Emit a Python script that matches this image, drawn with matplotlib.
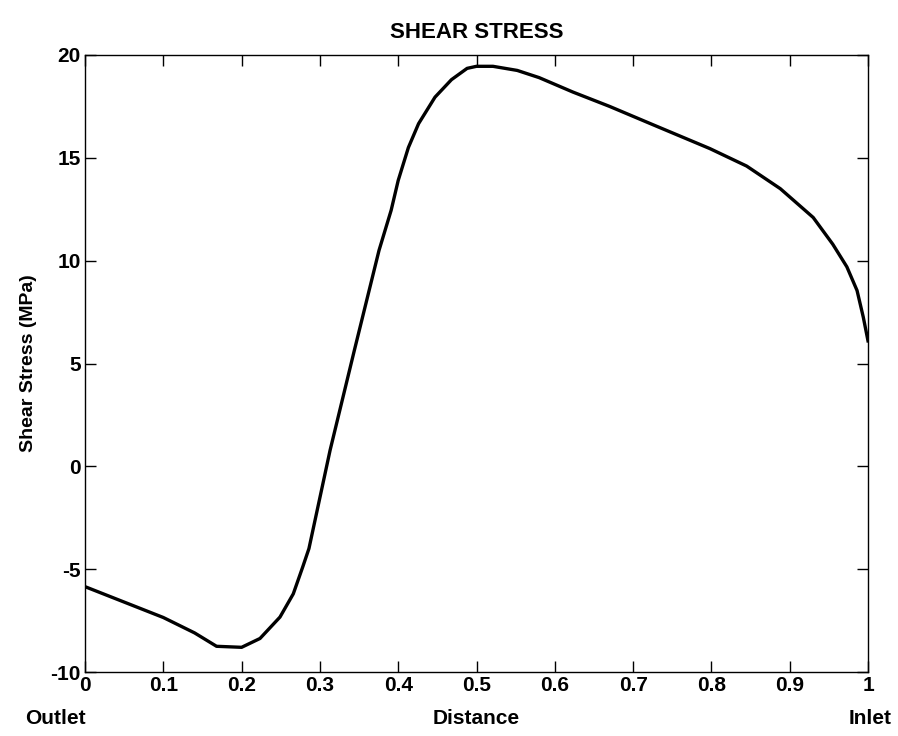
import matplotlib
matplotlib.use("Agg")
import matplotlib.pyplot as plt

# shear stress along the distance
distance = [0.0, 0.05, 0.10, 0.14, 0.168, 0.20, 0.2235, 0.249, 0.266, 0.278,
            0.286, 0.313, 0.344, 0.3755, 0.391, 0.400, 0.413, 0.426, 0.447,
            0.468, 0.488, 0.50, 0.521, 0.552, 0.58, 0.623, 0.67, 0.726,
            0.798, 0.845, 0.888, 0.93, 0.955, 0.973, 0.986, 0.994, 1.0]
stress = [-5.85, -6.6, -7.35, -8.1, -8.75, -8.8, -8.37, -7.33, -6.2, -4.9,
          -4.0, 0.78, 5.64, 10.5, 12.45, 13.9, 15.5, 16.66, 17.95,
          18.8, 19.35, 19.45, 19.45, 19.25, 18.9, 18.2, 17.5, 16.6,
          15.45, 14.6, 13.5, 12.1, 10.8, 9.7, 8.55, 7.25, 6.1]

xticks = [0, 0.1, 0.2, 0.3, 0.4, 0.5, 0.6, 0.7, 0.8, 0.9, 1]
xtick_labels = ['0', '0.1', '0.2', '0.3', '0.4', '0.5', '0.6', '0.7', '0.8', '0.9', '1']
yticks = [-10, -5, 0, 5, 10, 15, 20]
ytick_labels = ['-10', '-5', '0', '5', '10', '15', '20']

plt.rcParams['font.family'] = ['Liberation Sans', 'DejaVu Sans']
plt.rcParams['font.weight'] = 'bold'
plt.rcParams['axes.unicode_minus'] = False

fig = plt.figure(figsize=(8.98, 7.36), dpi=100)
ax = fig.add_axes([85 / 898, 1 - 672 / 736, 783 / 898, 617 / 736])

ax.plot(distance, stress, color='black', linewidth=2.4,
        solid_joinstyle='round')

ax.set_xlim(0, 1)
ax.set_ylim(-10, 20)
ax.set_xticks(xticks)
ax.set_xticklabels(xtick_labels)
ax.set_yticks(yticks)
ax.set_yticklabels(ytick_labels)
ax.tick_params(direction='in', length=8, width=1, top=True, right=True,
               labelsize=15, pad=3)
for lab in ax.get_xticklabels() + ax.get_yticklabels():
    lab.set_fontweight('bold')
for sp in ax.spines.values():
    sp.set_linewidth(1)

ax.set_title('SHEAR STRESS', fontsize=16, fontweight='bold', pad=12)
ax.set_ylabel('Shear Stress (MPa)', fontsize=14, fontweight='bold', labelpad=10)
fig.text(476 / 898, 1 - 718 / 736, 'Distance', ha='center', va='center',
         fontsize=15, fontweight='bold')
fig.text(55 / 898, 1 - 718 / 736, 'Outlet', ha='center', va='center',
         fontsize=15, fontweight='bold')
fig.text(870 / 898, 1 - 718 / 736, 'Inlet', ha='center', va='center',
         fontsize=15, fontweight='bold')

fig.savefig('out.png', dpi=100, facecolor='white')
